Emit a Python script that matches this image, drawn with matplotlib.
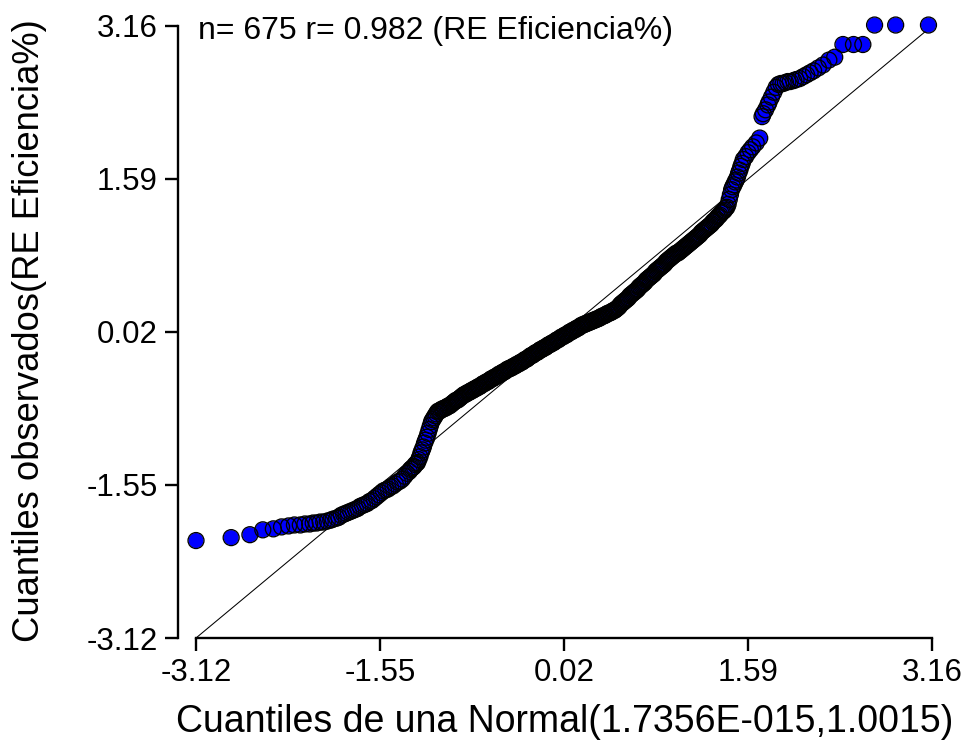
import matplotlib
matplotlib.use("Agg")
import matplotlib.pyplot as plt
import numpy as np

plt.rcParams['font.family'] = ['Liberation Sans', 'DejaVu Sans']

# theoretical normal quantiles (x) and observed quantiles (y), lower tail
q_teor_lo = [-3.12, -2.82, -2.66, -2.55, -2.46, -2.39, -2.33, -2.28, -2.23, -2.19,
             -2.15, -2.12, -2.09, -2.06, -2.03, -2.00, -1.97, -1.95, -1.92, -1.90,
             -1.88, -1.86, -1.84, -1.82, -1.80, -1.78, -1.76, -1.74, -1.72, -1.70,
             -1.68, -1.66, -1.64, -1.62, -1.60, -1.58, -1.56, -1.54, -1.52, -1.50,
             -1.48, -1.46, -1.44, -1.42, -1.40, -1.38, -1.36, -1.34, -1.32]
q_obs_lo = [-2.12, -2.09, -2.06, -2.01, -2.00, -1.98, -1.97, -1.96, -1.96, -1.95,
            -1.95, -1.94, -1.94, -1.93, -1.93, -1.92, -1.91, -1.90, -1.89, -1.88,
            -1.86, -1.85, -1.84, -1.83, -1.82, -1.81, -1.80, -1.79, -1.77, -1.76,
            -1.75, -1.74, -1.72, -1.71, -1.69, -1.67, -1.65, -1.63, -1.61, -1.60,
            -1.59, -1.57, -1.56, -1.54, -1.52, -1.51, -1.49, -1.46, -1.43]

# central part
q_teor_mid = [-1.30, -1.29, -1.28, -1.27, -1.26, -1.25, -1.24, -1.23, -1.22, -1.21,
              -1.20, -1.19, -1.18, -1.17, -1.16, -1.15, -1.14, -1.13, -1.12, -1.11,
              -1.10, -1.09, -1.08, -1.07, -1.06, -1.05, -1.04, -1.03, -1.02, -1.01,
              -1.00, -0.99, -0.98, -0.97, -0.96, -0.95, -0.94, -0.93, -0.92, -0.91,
              -0.90, -0.89, -0.88, -0.87, -0.86, -0.85, -0.84, -0.83, -0.82, -0.81,
              -0.80, -0.79, -0.78, -0.77, -0.76, -0.75, -0.74, -0.73, -0.72, -0.71,
              -0.70, -0.69, -0.68, -0.67, -0.66, -0.65, -0.64, -0.63, -0.62, -0.61,
              -0.60, -0.59, -0.58, -0.57, -0.56, -0.55, -0.54, -0.53, -0.52, -0.51,
              -0.50, -0.49, -0.48, -0.47, -0.46, -0.45, -0.44, -0.43, -0.42, -0.41,
              -0.40, -0.39, -0.38, -0.37, -0.36, -0.35, -0.34, -0.33, -0.32, -0.31,
              -0.30, -0.29, -0.28, -0.27, -0.26, -0.25, -0.24, -0.23, -0.22, -0.21,
              -0.20, -0.19, -0.18, -0.17, -0.16, -0.15, -0.14, -0.13, -0.12, -0.11,
              -0.10, -0.09, -0.08, -0.07, -0.06, -0.05, -0.04, -0.03, -0.02, -0.01,
              0.00, 0.01, 0.02, 0.03, 0.04, 0.05, 0.06, 0.07, 0.08, 0.09,
              0.10, 0.11, 0.12, 0.13, 0.14, 0.15, 0.16, 0.17, 0.18, 0.19,
              0.20, 0.21, 0.22, 0.23, 0.24, 0.25, 0.26, 0.27, 0.28, 0.29,
              0.30, 0.31, 0.32, 0.33, 0.34, 0.35, 0.36, 0.37, 0.38, 0.39,
              0.40, 0.41, 0.42, 0.43, 0.44, 0.45, 0.46, 0.47, 0.48, 0.49,
              0.50, 0.51, 0.52, 0.53, 0.54, 0.55, 0.56, 0.57, 0.58, 0.59,
              0.60, 0.61, 0.62, 0.63, 0.64, 0.65, 0.66, 0.67, 0.68, 0.69,
              0.70, 0.71, 0.72, 0.73, 0.74, 0.75, 0.76, 0.77, 0.78, 0.79,
              0.80, 0.81, 0.82, 0.83, 0.84, 0.85, 0.86, 0.87, 0.88, 0.89,
              0.90, 0.91, 0.92, 0.93, 0.94, 0.95, 0.96, 0.97, 0.98, 0.99,
              1.00, 1.01, 1.02, 1.03, 1.04, 1.05, 1.06, 1.07, 1.08, 1.09,
              1.10, 1.11, 1.12, 1.13, 1.14, 1.15, 1.16, 1.17, 1.18, 1.19,
              1.20, 1.21, 1.22, 1.23, 1.24, 1.25, 1.26, 1.27, 1.28, 1.29,
              1.30, 1.31, 1.32, 1.33, 1.34, 1.35, 1.36, 1.37, 1.38, 1.39,
              1.40]
q_obs_mid = [-1.41, -1.39, -1.38, -1.37, -1.36, -1.34, -1.33, -1.32, -1.29, -1.26,
             -1.22, -1.19, -1.16, -1.12, -1.09, -1.06, -1.02, -0.98, -0.94, -0.90,
             -0.88, -0.86, -0.84, -0.82, -0.80, -0.79, -0.79, -0.78, -0.77, -0.77,
             -0.76, -0.76, -0.75, -0.74, -0.74, -0.73, -0.72, -0.71, -0.70, -0.69,
             -0.68, -0.68, -0.67, -0.66, -0.65, -0.64, -0.63, -0.62, -0.62, -0.61,
             -0.60, -0.60, -0.59, -0.58, -0.58, -0.57, -0.56, -0.56, -0.55, -0.54,
             -0.54, -0.53, -0.52, -0.51, -0.51, -0.50, -0.49, -0.49, -0.48, -0.47,
             -0.46, -0.46, -0.45, -0.44, -0.44, -0.43, -0.42, -0.41, -0.41, -0.40,
             -0.39, -0.39, -0.38, -0.37, -0.36, -0.36, -0.35, -0.35, -0.34, -0.33,
             -0.33, -0.32, -0.31, -0.31, -0.30, -0.29, -0.29, -0.28, -0.27, -0.26,
             -0.26, -0.25, -0.24, -0.23, -0.22, -0.22, -0.21, -0.20, -0.19, -0.19,
             -0.18, -0.17, -0.16, -0.16, -0.15, -0.14, -0.14, -0.13, -0.12, -0.11,
             -0.11, -0.10, -0.09, -0.09, -0.08, -0.07, -0.06, -0.06, -0.05, -0.04,
             -0.03, -0.03, -0.02, -0.01, -0.01, 0.00, 0.01, 0.02, 0.02, 0.03,
             0.04, 0.04, 0.05, 0.06, 0.06, 0.07, 0.08, 0.09, 0.09, 0.10,
             0.10, 0.11, 0.11, 0.12, 0.12, 0.13, 0.13, 0.14, 0.14, 0.15,
             0.15, 0.16, 0.16, 0.17, 0.18, 0.18, 0.19, 0.19, 0.20, 0.21,
             0.21, 0.22, 0.22, 0.23, 0.24, 0.24, 0.25, 0.26, 0.27, 0.28,
             0.30, 0.31, 0.32, 0.33, 0.34, 0.35, 0.36, 0.37, 0.39, 0.40,
             0.41, 0.42, 0.43, 0.44, 0.45, 0.46, 0.48, 0.49, 0.50, 0.51,
             0.52, 0.53, 0.55, 0.56, 0.57, 0.58, 0.59, 0.60, 0.61, 0.62,
             0.64, 0.65, 0.66, 0.67, 0.68, 0.69, 0.70, 0.71, 0.72, 0.74,
             0.75, 0.76, 0.77, 0.78, 0.79, 0.80, 0.81, 0.82, 0.83, 0.83,
             0.84, 0.85, 0.86, 0.87, 0.88, 0.89, 0.90, 0.91, 0.92, 0.93,
             0.94, 0.95, 0.96, 0.97, 0.98, 0.99, 1.00, 1.01, 1.02, 1.04,
             1.05, 1.06, 1.07, 1.08, 1.09, 1.10, 1.11, 1.12, 1.13, 1.15,
             1.16, 1.17, 1.18, 1.20, 1.21, 1.22, 1.24, 1.25, 1.26, 1.27,
             1.29]

# upper tail
q_teor_hi = [1.41, 1.42, 1.43, 1.44, 1.45, 1.46, 1.47, 1.48, 1.49, 1.50,
             1.51, 1.52, 1.53, 1.54, 1.55, 1.57, 1.59, 1.61, 1.63, 1.66,
             1.69, 1.71, 1.72, 1.74, 1.76, 1.77, 1.79, 1.81, 1.83, 1.85,
             1.87, 1.89, 1.91, 1.93, 1.95, 1.98, 2.00, 2.03, 2.06, 2.09,
             2.12, 2.15, 2.19, 2.23, 2.28, 2.33, 2.40, 2.49, 2.57, 2.67,
             2.85, 3.13]
q_obs_hi = [1.30, 1.33, 1.38, 1.43, 1.48, 1.51, 1.53, 1.56, 1.58, 1.61,
            1.65, 1.68, 1.72, 1.75, 1.79, 1.82, 1.86, 1.89, 1.92, 1.96,
            2.01, 2.23, 2.26, 2.30, 2.35, 2.38, 2.43, 2.48, 2.53, 2.56,
            2.57, 2.57, 2.58, 2.59, 2.59, 2.60, 2.61, 2.62, 2.64, 2.66,
            2.68, 2.70, 2.73, 2.76, 2.81, 2.84, 2.97, 2.97, 2.97, 3.17,
            3.17, 3.17]

ticks = [-3.12, -1.55, 0.02, 1.59, 3.16]
tick_labels = ['-3.12', '-1.55', '0.02', '1.59', '3.16']

x = np.array(q_teor_lo + q_teor_mid + q_teor_hi)
y = np.array(q_obs_lo + q_obs_mid + q_obs_hi)

W, H = 970, 749
fig = plt.figure(figsize=(W / 100, H / 100), dpi=100)
# axes box in pixels: left 178, right 950, top 10, bottom 638
ax = fig.add_axes([178 / W, (H - 638) / H, (950 - 178) / W, (638 - 10) / H])
ax.set_xlim(-3.12 - 18 * 6.28 / 736, 3.16 + 18 * 6.28 / 736)
ax.set_ylim(-3.12, 3.16 + 16 * 6.28 / 612)

# reference line y = x
ax.plot([ticks[0], ticks[-1]], [ticks[0], ticks[-1]], color='black', lw=0.75, zorder=1)

# points: blue fills first, black outlines on top
ax.scatter(x, y, s=118, marker='o', facecolor='#0000ff', edgecolor='none',
           zorder=2, clip_on=False)
ax.scatter(x, y, s=132, marker='o', facecolor='none', edgecolor='black',
           linewidths=0.95, zorder=3, clip_on=False)

for side in ['top', 'right']:
    ax.spines[side].set_visible(False)
for side in ['left', 'bottom']:
    ax.spines[side].set_linewidth(1.7)
    ax.spines[side].set_bounds(ticks[0], ticks[-1])

ax.set_xticks(ticks)
ax.set_xticklabels(tick_labels)
ax.set_yticks(ticks)
ax.set_yticklabels(tick_labels)
ax.tick_params(axis='both', length=9.5, width=1.7, pad=5, labelsize=22.5, colors='black')

fig.text(198 / W, 1 - 39 / H, 'n= 675 r= 0.982 (RE Eficiencia%)', fontsize=23,
         ha='left', va='baseline')
fig.text(565 / W, 1 - 722 / H, 'Cuantiles de una Normal(1.7356E-015,1.0015)',
         fontsize=27, ha='center', va='center')
fig.text(30 / W, 1 - 331 / H, 'Cuantiles observados(RE Eficiencia%)',
         fontsize=26.2, ha='center', va='center', rotation=90)

fig.savefig('out.png', dpi=100, facecolor='white')
